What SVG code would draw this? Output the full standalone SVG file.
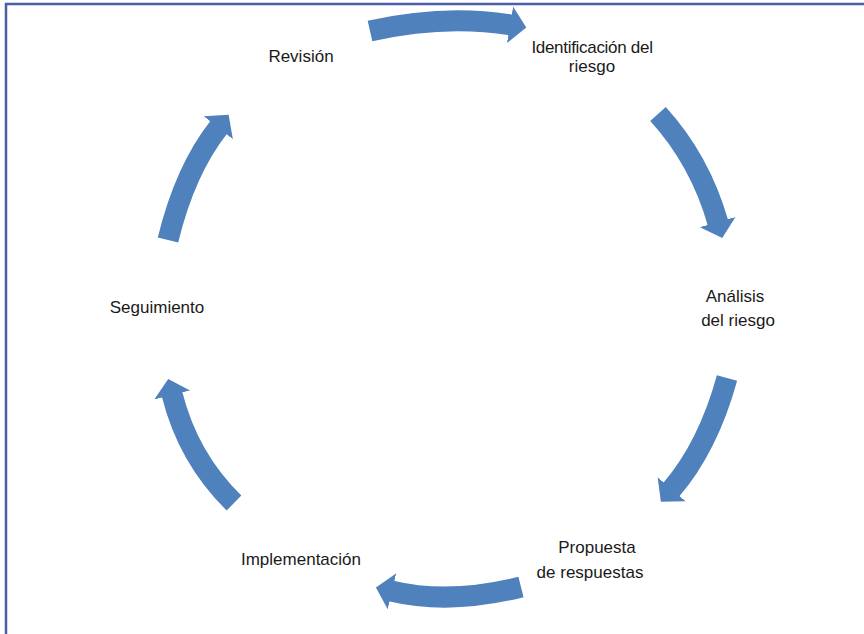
<svg xmlns="http://www.w3.org/2000/svg" width="864" height="634" viewBox="0 0 864 634">
<style>
.lbl{font-family:"Liberation Sans",Arial,sans-serif;font-size:17px;fill:#1a1a1a;text-anchor:middle}
.arr{fill:none;stroke:#4f81bd;stroke-width:21;stroke-linecap:butt}
.frame{fill:none;stroke:#4a5fa8;stroke-width:2.5}
</style>
<defs>
<marker id="head" markerUnits="userSpaceOnUse" viewBox="0 -19 18 38" markerWidth="18" markerHeight="38" refX="1" refY="0" orient="auto">
<path d="M0,-18.5 L16.5,0 L0,18.5 Z" fill="#4f81bd"/>
</marker>
</defs>
<rect width="864" height="634" fill="#ffffff"/>
<path class="frame" d="M6,634 V4 H864"/>
<g id="connectors">
<path class="arr" d="M370,31 Q445,14 511,25" marker-end="url(#head)"/>
<path class="arr" d="M658,114 Q700,160 718,223" marker-end="url(#head)"/>
<path class="arr" d="M727,378 Q708,447 671,490" marker-end="url(#head)"/>
<path class="arr" d="M521,587 Q450,605 391,591" marker-end="url(#head)"/>
<path class="arr" d="M234,503 Q188,458 172,394" marker-end="url(#head)"/>
<path class="arr" d="M168,240 Q185,170 219,127" marker-end="url(#head)"/>
</g>
<g id="revision"><text class="lbl" x="301" y="62">Revisión</text></g>
<g id="identificacion"><text class="lbl" x="592" y="53" letter-spacing="-0.3">Identificación del</text><text class="lbl" x="592" y="72">riesgo</text></g>
<g id="analisis"><text class="lbl" x="735" y="302">Análisis</text><text class="lbl" x="738" y="326">del riesgo</text></g>
<g id="propuesta"><text class="lbl" x="597" y="553">Propuesta</text><text class="lbl" x="590" y="578">de respuestas</text></g>
<g id="implementacion"><text class="lbl" x="301" y="565">Implementación</text></g>
<g id="seguimiento"><text class="lbl" x="157" y="313">Seguimiento</text></g>
</svg>
